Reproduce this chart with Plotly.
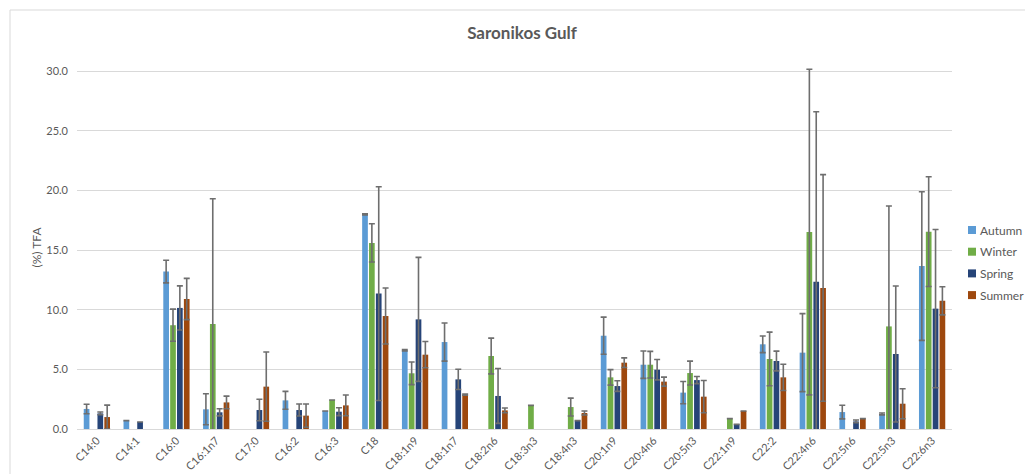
import plotly.graph_objects as go

# Fatty acid composition (% of total fatty acids), mean and SD by season
categories = ["C14:0", "C14:1", "C16:0", "C16:1n7", "C17:0", "C16:2", "C16:3", "C18",
              "C18:1n9", "C18:1n7", "C18:2n6", "C18:3n3", "C18:4n3", "C20:1n9",
              "C20:4n6", "C20:5n3", "C22:1n9", "C22:2", "C22:4n6", "C22:5n6",
              "C22:5n3", "C22:6n3"]

autumn = [1.68, 0.70, 13.20, 1.65, None, 2.40, 1.51, 18.00, 6.60, 7.29, None, None,
          None, 7.82, 5.39, 3.05, None, 7.10, 6.40, 1.42, 1.26, 13.66]
autumn_sd = [0.40, None, 0.95, 1.30, None, 0.75, None, 0.05, 0.05, 1.60, None, None,
             None, 1.56, 1.15, 0.93, None, 0.70, 3.27, 0.57, 0.08, 6.23]

winter = [None, None, 8.70, 8.80, None, None, 2.43, 15.60, 4.67, None, 6.12, 1.98,
          1.84, 4.33, 5.39, 4.69, 0.87, 5.87, 16.51, None, 8.60, 16.54]
winter_sd = [None, None, 1.35, 10.50, None, None, None, 1.60, 0.95, None, 1.50, None,
             0.75, 0.65, 1.12, 1.00, None, 2.25, 13.65, None, 10.10, 4.60]

spring = [1.31, 0.59, 10.15, 1.40, 1.59, 1.59, 1.45, 11.35, 9.19, 4.16, 2.77, None,
          0.70, 3.60, 4.97, 4.10, 0.39, 5.70, 12.35, 0.64, 6.29, 10.09]
spring_sd = [0.12, None, 1.85, 0.30, 0.90, 0.50, 0.33, 8.96, 5.20, 0.85, 2.30, None,
             None, 0.45, 0.85, 0.30, None, 0.83, 14.25, 0.12, 5.70, 6.63]

summer = [1.00, None, 10.90, 2.23, 3.55, 1.12, 1.98, 9.47, 6.23, 2.88, 1.56, None,
          1.34, 5.56, 3.97, 2.71, 1.51, 4.33, 11.82, 0.87, 2.12, 10.75]
summer_sd = [1.00, None, 1.73, 0.53, 2.90, 0.97, 0.87, 2.35, 1.10, 0.05, 0.20, None,
             0.17, 0.40, 0.38, 1.35, None, 1.10, 9.50, None, 1.26, 1.18]

series = [
    ("Autumn", autumn, autumn_sd, "#5B9BD5"),
    ("Winter", winter, winter_sd, "#70AD47"),
    ("Spring", spring, spring_sd, "#264478"),
    ("Summer", summer, summer_sd, "#9E480E"),
]

FONT = "Lato, 'Open Sans', sans-serif"
GREY = "#595959"

W, H = 1025, 474
ML, MR, MT, MB = 77, 73, 66, 45
PW, PH = W - ML - MR, H - MT - MB


def px_x(px):
    """Horizontal pixel position -> paper coordinate."""
    return (px - ML) / PW


def px_y(py):
    """Vertical pixel position (from top) -> paper coordinate."""
    return (H - MB - py) / PH


fig = go.Figure()
for name, vals, sd, color in series:
    fig.add_trace(go.Bar(
        name=name,
        x=categories,
        y=vals,
        marker=dict(color=color, line=dict(width=0)),
        showlegend=False,
        error_y=dict(
            type="data",
            array=[s if s is not None else 0 for s in sd],
            visible=True,
            color="#6E6E6E",
            thickness=1.6,
            width=3,
        ),
    ))

# legend: small square keys with labels to the right of the plot
for i, (name, _, _, color) in enumerate(series):
    yc = 230 + i * 21.7
    fig.add_shape(
        type="rect", xref="paper", yref="paper",
        x0=px_x(968), x1=px_x(976), y0=px_y(yc + 4), y1=px_y(yc - 4),
        fillcolor=color, line=dict(width=0),
    )
    fig.add_annotation(
        xref="paper", yref="paper", x=px_x(978), y=px_y(yc),
        xanchor="left", yanchor="middle", showarrow=False,
        text=name, font=dict(family=FONT, size=12, color=GREY),
    )

fig.update_layout(
    width=W, height=H,
    margin=dict(l=ML, r=MR, t=MT, b=MB, autoexpand=False),
    paper_bgcolor="white",
    plot_bgcolor="white",
    barmode="group",
    bargap=0.31,
    bargroupgap=0.17,
    showlegend=False,
    font=dict(family=FONT, size=11, color=GREY),
    title=dict(
        text="<b>Saronikos Gulf</b>",
        x=522 / W, xanchor="center",
        y=1 - 33 / H, yanchor="middle",
        font=dict(family=FONT, size=17, color=GREY),
    ),
    xaxis=dict(
        type="category",
        tickangle=-45,
        showgrid=False,
        showline=True,
        linecolor="#D9D9D9",
        linewidth=1,
        ticks="",
        tickfont=dict(family=FONT, size=11, color=GREY),
        automargin=False,
    ),
    yaxis=dict(
        range=[0, 30.43],
        tickvals=[0, 5, 10, 15, 20, 25, 30],
        tickformat=".1f",
        showgrid=True,
        gridcolor="#D9D9D9",
        gridwidth=1,
        zeroline=False,
        showline=False,
        ticks="",
        ticklabelstandoff=8,
        tickfont=dict(family=FONT, size=11, color=GREY),
        title=dict(text="(%) TFA", standoff=2,
                   font=dict(family=FONT, size=12, color=GREY)),
        automargin=False,
    ),
)

# light chart-area border
fig.add_shape(
    type="rect", xref="paper", yref="paper",
    x0=px_x(10), x1=px_x(W + 5), y0=px_y(H + 5), y1=px_y(10),
    line=dict(color="#D9D9D9", width=1),
    fillcolor="rgba(0,0,0,0)",
    layer="below",
)

fig.write_html("out.html")
